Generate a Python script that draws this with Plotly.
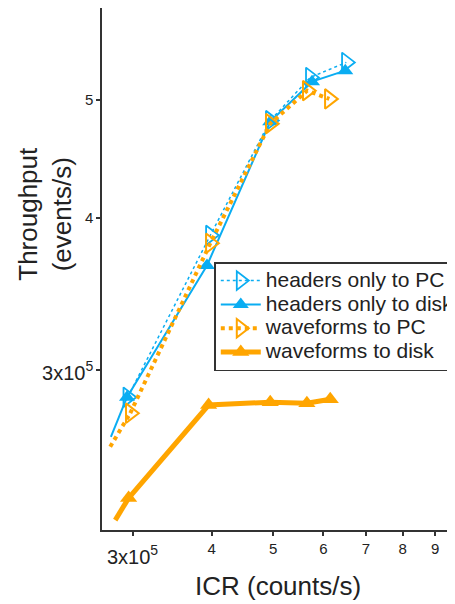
import plotly.graph_objects as go

# ---- data ----
hpc_x = [2.948e5, 3.979e5, 4.946e5, 5.72e5, 6.52e5]
hpc_y = [2.847e5, 3.868e5, 4.806e5, 5.215e5, 5.365e5]

hdisk_x = [2.773e5, 2.94e5, 3.931e5, 4.946e5, 5.756e5, 6.495e5]
hdisk_y = [2.641e5, 2.847e5, 3.653e5, 4.796e5, 5.173e5, 5.282e5]

wpc_x = [2.766e5, 2.975e5, 3.979e5, 4.946e5, 5.657e5, 6.13e5]
wpc_y = [2.592e5, 2.762e5, 3.81e5, 4.778e5, 5.086e5, 5.007e5]

wdisk_x = [2.817e5, 2.957e5, 3.954e5, 4.946e5, 5.65e5, 6.15e5]
wdisk_y = [2.256e5, 2.352e5, 2.805e5, 2.82e5, 2.815e5, 2.836e5]

series_names = ["headers only to PC", "headers only to disk", "waveforms to PC", "waveforms to disk"]

x_tickvals = [3e5, 4e5, 5e5, 6e5, 7e5, 8e5, 9e5]
x_ticktext = ["<span style='font-size:20px;baseline-shift:-10px'>3x10<sup>5</sup></span>",
              "4", "5", "6", "7", "8", "9"]
y_tickvals = [3e5, 4e5, 5e5]
y_ticktext = ["<span style='font-size:20px;baseline-shift:-5px'>3x10<sup>5</sup></span>", "4", "5"]

BLUE = "#0AADF2"
ORANGE = "#FFA500"
FONT = "Liberation Sans, Arial, sans-serif"


def lname(s):
    # legend text drawn larger than the legend's base font so rows stay tight
    return "<span style='font-size:21px'>" + s + "</span>"


fig = go.Figure()

# headers only to PC
fig.add_trace(go.Scatter(
    x=hpc_x, y=hpc_y, mode="lines+markers", name=lname(series_names[0]),
    line=dict(color=BLUE, width=1.5, dash="dot"),
    marker=dict(symbol="triangle-right-open", size=17, color=BLUE, line=dict(width=1.8, color=BLUE)),
))

# headers only to disk (leading segment without marker)
fig.add_trace(go.Scatter(
    x=hdisk_x[:2], y=hdisk_y[:2], mode="lines", showlegend=False,
    line=dict(color=BLUE, width=2), hoverinfo="skip",
))
fig.add_trace(go.Scatter(
    x=hdisk_x[1:], y=hdisk_y[1:], mode="lines+markers", name=lname(series_names[1]),
    line=dict(color=BLUE, width=2),
    marker=dict(symbol="triangle-up", size=14, color=BLUE),
))

# waveforms to PC
fig.add_trace(go.Scatter(
    x=wpc_x[:2], y=wpc_y[:2], mode="lines", showlegend=False,
    line=dict(color=ORANGE, width=4, dash="dot"), hoverinfo="skip",
))
fig.add_trace(go.Scatter(
    x=wpc_x[1:], y=wpc_y[1:], mode="lines+markers", name=lname(series_names[2]),
    line=dict(color=ORANGE, width=4, dash="dot"),
    marker=dict(symbol="triangle-right-open", size=17, color=ORANGE, line=dict(width=2, color=ORANGE)),
))

# waveforms to disk
fig.add_trace(go.Scatter(
    x=wdisk_x[:2], y=wdisk_y[:2], mode="lines", showlegend=False,
    line=dict(color=ORANGE, width=5), hoverinfo="skip",
))
fig.add_trace(go.Scatter(
    x=wdisk_x[1:], y=wdisk_y[1:], mode="lines+markers", name=lname(series_names[3]),
    line=dict(color=ORANGE, width=5),
    marker=dict(symbol="triangle-up", size=15, color=ORANGE),
))

axis_common = dict(
    type="log", showgrid=False, zeroline=False,
    showline=True, mirror=True, linecolor="#333333", linewidth=1.5,
    ticks="outside", ticklen=4, tickwidth=1.5, tickcolor="#333333",
    tickfont=dict(family=FONT, size=15, color="#222222"),
)

# page body has an 8px default margin, so the figure is sized/placed to compensate
fig.update_layout(
    width=447, height=596,
    margin=dict(l=94, r=1, t=0, b=74, autoexpand=False),
    paper_bgcolor="white", plot_bgcolor="white",
    font=dict(family=FONT, color="#222222"),
    xaxis=dict(range=[5.4289, 5.9841], tickvals=x_tickvals, ticktext=x_ticktext, **axis_common),
    yaxis=dict(range=[5.3452, 5.7743], tickvals=y_tickvals, ticktext=y_ticktext, **axis_common),
    legend=dict(
        x=0.319, y=0.513, xanchor="left", yanchor="top",
        bgcolor="white", bordercolor="#333333", borderwidth=1.5,
        font=dict(family=FONT, size=16, color="#222222"),
        tracegroupgap=0, itemwidth=40,
    ),
    showlegend=True,
    annotations=[
        dict(text="ICR (counts/s)", xref="paper", yref="paper", x=0.5, y=-0.107,
             xanchor="center", yanchor="middle", showarrow=False,
             font=dict(family=FONT, size=26, color="#222222")),
        dict(text="Throughput<br>(events/s)", xref="paper", yref="paper", x=-0.161, y=0.6065,
             xanchor="center", yanchor="middle", showarrow=False, textangle=-90,
             font=dict(family=FONT, size=26, color="#222222")),
    ],
)

fig.write_html("out.html")
